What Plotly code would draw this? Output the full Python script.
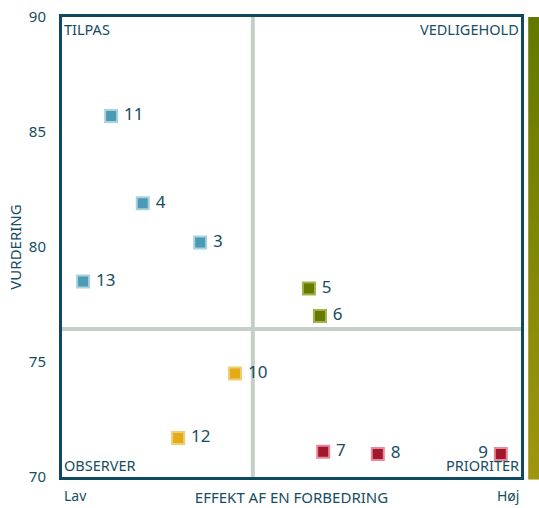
import plotly.graph_objects as go
import base64

# ---- data ----
ids = ["11", "4", "3", "13", "5", "6", "10", "12", "7", "8", "9"]
effekt = [10.7, 17.6, 30.1, 4.6, 53.8, 56.2, 37.7, 25.3, 56.9, 68.8, 95.6]
vurdering = [85.7, 81.9, 80.2, 78.5, 78.2, 77.0, 74.5, 71.7, 71.1, 71.0, 71.0]
kvadrant = ["TILPAS", "TILPAS", "TILPAS", "TILPAS", "VEDLIGEHOLD", "VEDLIGEHOLD",
            "OBSERVER", "OBSERVER", "PRIORITER", "PRIORITER", "PRIORITER"]
y_ticks = [70, 75, 80, 85, 90]
x_labels = ["Lav", "Høj"]

# ---- styles ----
TXT = "#164d62"
FONT = "Noto Sans"
fill = {"TILPAS": "#4b9bb6", "VEDLIGEHOLD": "#667a00",
        "OBSERVER": "#e3ab18", "PRIORITER": "#a3172e"}
edge = {"TILPAS": "#a9d1de", "VEDLIGEHOLD": "#a2b24a",
        "OBSERVER": "#f1cd72", "PRIORITER": "#e48a98"}
bar_top, bar_bottom = "#627800", "#a09510"

x_range = [0, 100]
y_range = [70, 90]
x_mean = sum(effekt) / len(effekt)
y_mean = sum(vurdering) / len(vurdering)

fig = go.Figure()

# quadrant mid lines
fig.add_shape(type="line", xref="x", yref="paper", x0=x_mean, x1=x_mean, y0=0, y1=1,
              line=dict(color="#c6cfc7", width=4), layer="below")
fig.add_shape(type="line", xref="paper", yref="y", x0=0, x1=1, y0=y_mean, y1=y_mean,
              line=dict(color="#c6cfc7", width=4), layer="below")

for q in ["TILPAS", "VEDLIGEHOLD", "OBSERVER", "PRIORITER"]:
    idx = [i for i, k in enumerate(kvadrant) if k == q]
    xs = [effekt[i] for i in idx]
    fig.add_trace(go.Scatter(
        x=xs,
        y=[vurdering[i] for i in idx],
        text=[ids[i] for i in idx],
        mode="markers+text",
        textposition=["middle left" if x > 90 else "middle right" for x in xs],
        texttemplate=["%{text} " if x > 90 else " %{text}" for x in xs],
        textfont=dict(family=FONT, size=17, color=TXT),
        marker=dict(symbol="square", size=12, color=fill[q],
                    line=dict(color=edge[q], width=2)),
        showlegend=False, hoverinfo="skip", cliponaxis=False,
    ))

# gradient bar on the right
svg = ('<svg xmlns="http://www.w3.org/2000/svg" width="10" height="100" '
       'preserveAspectRatio="none" viewBox="0 0 10 100">'
       '<defs><linearGradient id="g" x1="0" y1="0" x2="0" y2="1">'
       f'<stop offset="0" stop-color="{bar_top}"/>'
       f'<stop offset="1" stop-color="{bar_bottom}"/>'
       '</linearGradient></defs><rect width="10" height="100" fill="url(#g)"/></svg>')
src = "data:image/svg+xml;base64," + base64.b64encode(svg.encode()).decode()
fig.add_layout_image(source=src, xref="paper", yref="paper", x=1.0155, y=1.0,
                     sizex=0.026, sizey=1.006, sizing="stretch",
                     xanchor="left", yanchor="top", layer="above")

axis_line = dict(showline=True, linecolor="#0e4a5f", linewidth=3, mirror=True,
                 showgrid=False, zeroline=False)

fig.update_xaxes(range=x_range, showticklabels=False, ticks="",
                 title=dict(text="EFFEKT AF EN FORBEDRING",
                            font=dict(family=FONT, size=15, color=TXT), standoff=14),
                 **axis_line)
fig.update_yaxes(range=y_range, tickvals=y_ticks, ticks="",
                 tickfont=dict(family=FONT, size=15, color=TXT), ticklabelstandoff=10,
                 ticklabeloverflow="allow",
                 title=dict(text="VURDERING", font=dict(family=FONT, size=15, color=TXT),
                            standoff=4),
                 **axis_line)

annos = [
    dict(x=0, y=1, text="TILPAS", xanchor="left", yanchor="top"),
    dict(x=1, y=1, text="VEDLIGEHOLD", xanchor="right", yanchor="top"),
    dict(x=0, y=0, text="OBSERVER", xanchor="left", yanchor="bottom"),
    dict(x=1, y=0, text="PRIORITER", xanchor="right", yanchor="bottom"),
]
for a in annos:
    fig.add_annotation(xref="paper", yref="paper", showarrow=False,
                       font=dict(family=FONT, size=14.5, color=TXT), **a)

fig.add_annotation(xref="paper", yref="paper", x=0, y=-0.015, text=x_labels[0],
                   xanchor="left", yanchor="top", showarrow=False,
                   font=dict(family=FONT, size=14, color=TXT))
fig.add_annotation(xref="paper", yref="paper", x=1, y=-0.015, text=x_labels[1],
                   xanchor="right", yanchor="top", showarrow=False,
                   font=dict(family=FONT, size=14, color=TXT))

fig.update_layout(
    width=539, height=508,
    margin=dict(l=62, r=18, t=17, b=31, autoexpand=False),
    plot_bgcolor="white", paper_bgcolor="white",
    font=dict(family=FONT, color=TXT),
)

fig.write_html(
    "out.html",
    config={"displayModeBar": False},
    post_script="document.body.style.margin='0';document.body.style.overflow='hidden';",
)
